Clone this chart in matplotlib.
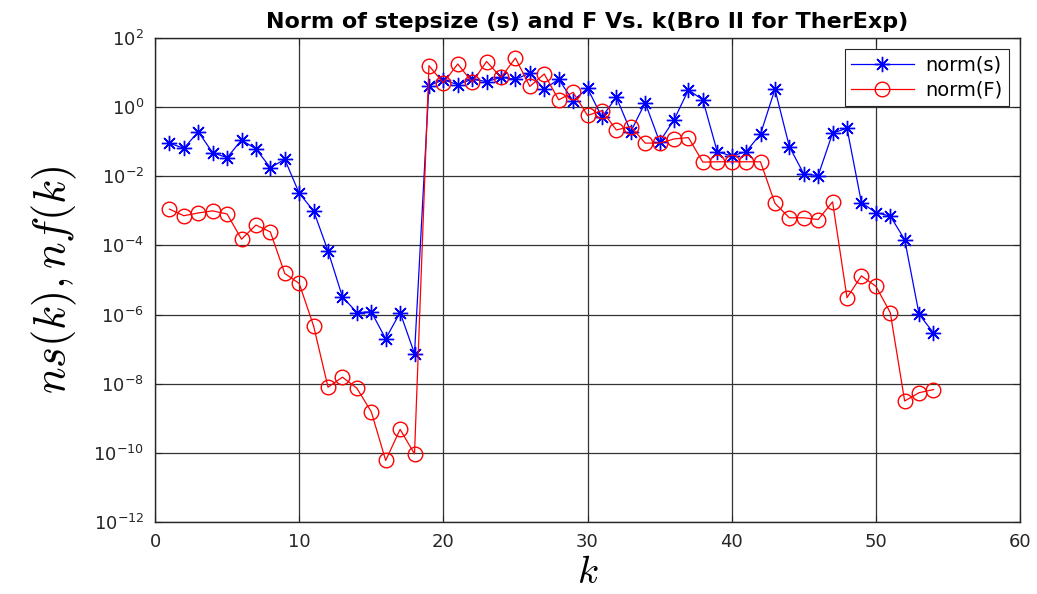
import numpy as np
from matplotlib import pyplot as plt
from matplotlib import ticker

plt.rcParams['mathtext.fontset'] = 'cm'
plt.rcParams['font.family'] = ['DejaVu Sans']

# iteration numbers
k = np.arange(1, 55)

# log10 of norm(s)
log_ns = [-1.04, -1.19, -0.71, -1.32, -1.46, -0.95, -1.21, -1.75, -1.51, -2.49,
          -3.00, -4.16, -5.49, -5.94, -5.92, -6.70, -5.94, -7.13, 0.62, 0.79,
          0.65, 0.81, 0.74, 0.86, 0.81, 0.98, 0.52, 0.81, 0.18, 0.55,
          -0.29, 0.29, -0.71, 0.13, -1.00, -0.37, 0.50, 0.21, -1.29, -1.41,
          -1.29, -0.78, 0.52, -1.14, -1.93, -1.98, -0.75, -0.61, -2.76, -3.05,
          -3.15, -3.83, -5.99, -6.53]

# log10 of norm(F)
log_nf = [-2.95, -3.14, -3.06, -3.00, -3.09, -3.82, -3.41, -3.61, -4.81, -5.10,
          -6.33, -8.10, -7.81, -8.13, -8.81, -10.22, -9.32, -10.03, 1.20, 0.70,
          1.25, 0.72, 1.32, 0.86, 1.42, 0.60, 0.96, 0.21, 0.43, -0.24,
          -0.10, -0.66, -0.56, -1.04, -1.04, -0.92, -0.88, -1.59, -1.58, -1.58,
          -1.58, -1.58, -2.78, -3.20, -3.20, -3.25, -2.74, -5.51, -4.88, -5.18,
          -5.94, -8.50, -8.26, -8.17]

ns = 10.0 ** np.array(log_ns)
nf = 10.0 ** np.array(log_nf)

fig = plt.figure(figsize=(10.37, 5.94), dpi=100)
ax = fig.add_axes([0.1495, 0.1212, 0.8341, 0.8148])

ax.semilogy(k, ns, color='#0000ff', lw=0.9, marker=(8, 2, 0), ms=11,
            mew=1.0, label='norm(s)')
ax.semilogy(k, nf, color='#ff0000', lw=0.9, marker='o', ms=10.5,
            mfc='none', mew=1.0, label='norm(F)')

ax.set_xlim(0, 60)
ax.set_ylim(1e-12, 1e2)
ax.set_xticks(np.arange(0, 61, 10))
ax.yaxis.set_major_locator(ticker.FixedLocator(10.0 ** np.arange(-12, 3, 2)))
ax.yaxis.set_minor_locator(ticker.NullLocator())
ax.yaxis.set_major_formatter(ticker.FuncFormatter(
    lambda v, p: r'$\mathregular{10^{%d}}$' % round(np.log10(v))))

ax.tick_params(direction='in', which='both', top=True, right=True,
               labelsize=13, length=5, width=0.8, colors='#262626', pad=8)
ax.grid(True, color='#333333', lw=0.9)
for sp in ax.spines.values():
    sp.set_linewidth(1.0)
    sp.set_color('#262626')

ax.set_title('Norm of stepsize (s) and F Vs. k(Bro II for TherExp)',
             fontsize=16, fontweight='bold', pad=7)
ax.set_xlabel(r'$k$', fontsize=28, labelpad=1)
ax.set_ylabel(r'$ns(k),nf(k)$', fontsize=32, labelpad=10)

leg = ax.legend(loc='upper right', fontsize=14, fancybox=False,
                edgecolor='#262626', framealpha=1, handlelength=3.2,
                borderaxespad=0.55, handletextpad=0.6, borderpad=0.35,
                labelspacing=0.3)
leg.get_frame().set_linewidth(0.8)

fig.savefig('out.png', dpi=100)
